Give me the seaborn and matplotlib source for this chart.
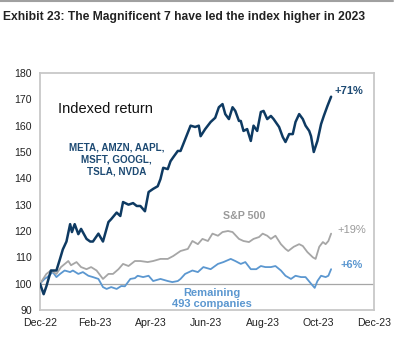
import matplotlib
matplotlib.use("Agg")
import matplotlib.pyplot as plt
from matplotlib.lines import Line2D
import seaborn as sns
import pandas as pd

sns.set_theme(style="white")
plt.rcParams['font.family'] = ['Liberation Sans', 'DejaVu Sans']

# ---------------- data ----------------
mag7_dates = ["2022-12-30", "2023-01-03", "2023-01-06", "2023-01-11", "2023-01-17", "2023-01-21",
              "2023-01-24", "2023-01-28", "2023-02-01", "2023-02-03", "2023-02-06", "2023-02-10",
              "2023-02-13", "2023-02-19", "2023-02-23", "2023-02-26", "2023-03-04", "2023-03-09",
              "2023-03-15", "2023-03-18", "2023-03-24", "2023-03-28", "2023-03-31", "2023-04-06",
              "2023-04-11", "2023-04-15", "2023-04-19", "2023-04-24", "2023-04-28", "2023-05-03",
              "2023-05-08", "2023-05-11", "2023-05-14", "2023-05-19", "2023-05-22", "2023-05-25",
              "2023-05-30", "2023-06-02", "2023-06-05", "2023-06-13", "2023-06-18", "2023-06-22",
              "2023-06-24", "2023-06-29", "2023-07-05", "2023-07-10", "2023-07-14", "2023-07-18",
              "2023-07-21", "2023-07-25", "2023-07-29", "2023-08-01", "2023-08-05", "2023-08-07",
              "2023-08-10", "2023-08-14", "2023-08-18", "2023-08-21", "2023-08-25", "2023-08-29",
              "2023-09-01", "2023-09-05", "2023-09-09", "2023-09-12", "2023-09-18", "2023-09-22",
              "2023-09-25", "2023-09-29", "2023-10-03", "2023-10-06", "2023-10-10", "2023-10-14",
              "2023-10-17", "2023-10-21", "2023-10-23", "2023-10-26", "2023-10-30", "2023-11-03",
              "2023-11-06", "2023-11-10", "2023-11-14"]
mag7_values = [100, 96, 99, 105, 105, 109.5,
               113, 116, 122.6, 119.6, 122.6, 118.8,
               120.8, 117, 116, 116, 119, 116,
               123.4, 124.5, 127, 125.7, 131, 130,
               130.6, 129.5, 129.5, 127.5, 134.8, 136,
               137, 139.7, 144, 143.5, 146.5, 148,
               150.4, 150.4, 153, 160, 159.5, 160,
               156, 158.7, 161.4, 163, 167, 168.2,
               164.4, 162.5, 167, 165.6, 161.8, 161.8,
               158, 158.7, 154.2, 160, 158, 165.2,
               165.6, 162.5, 163.7, 162.5, 159.5, 155.7,
               153.8, 156.8, 156.8, 161.4, 164.4, 162.5,
               160, 158, 156, 150, 154.2, 160.6,
               163.7, 167.5, 171]

spx_dates = ["2022-12-30", "2023-01-06", "2023-01-11", "2023-01-17", "2023-01-22", "2023-01-30",
             "2023-02-02", "2023-02-08", "2023-02-13", "2023-02-19", "2023-02-24", "2023-03-02",
             "2023-03-09", "2023-03-15", "2023-03-20", "2023-03-26", "2023-03-31", "2023-04-06",
             "2023-04-13", "2023-04-19", "2023-04-27", "2023-05-03", "2023-05-11", "2023-05-19",
             "2023-05-25", "2023-06-02", "2023-06-10", "2023-06-15", "2023-06-21", "2023-06-26",
             "2023-07-02", "2023-07-07", "2023-07-13", "2023-07-18", "2023-07-24", "2023-07-29",
             "2023-08-05", "2023-08-10", "2023-08-16", "2023-08-21", "2023-08-27", "2023-08-31",
             "2023-09-05", "2023-09-09", "2023-09-14", "2023-09-20", "2023-09-25", "2023-09-28",
             "2023-10-04", "2023-10-10", "2023-10-14", "2023-10-19", "2023-10-25", "2023-10-28",
             "2023-11-01", "2023-11-05", "2023-11-08", "2023-11-11", "2023-11-14"]
spx_values = [100, 103.7, 105, 103.7, 106.3, 108.6,
              107, 108.2, 106.3, 105.5, 106.3, 105,
              101.8, 103.7, 103.7, 105.5, 107.5, 106.7,
              108.6, 108.6, 108.2, 108.6, 109.4, 109.4,
              110.5, 112.4, 113.2, 116.2, 115, 117,
              116.2, 119, 118.2, 119.6, 120, 119.6,
              117, 116.2, 115.8, 117, 117.7, 119,
              118.2, 117, 118.2, 115, 113.2, 112.4,
              114, 115, 114.3, 112, 110, 109.4,
              114, 115.8, 115, 116.2, 119]

rest_dates = ["2022-12-30", "2023-01-04", "2023-01-07", "2023-01-13", "2023-01-17", "2023-01-21",
              "2023-01-26", "2023-02-01", "2023-02-04", "2023-02-10", "2023-02-15", "2023-02-21",
              "2023-02-26", "2023-03-04", "2023-03-09", "2023-03-13", "2023-03-18", "2023-03-24",
              "2023-03-29", "2023-04-02", "2023-04-08", "2023-04-13", "2023-04-16", "2023-04-22",
              "2023-04-28", "2023-05-03", "2023-05-11", "2023-05-19", "2023-05-24", "2023-05-30",
              "2023-06-02", "2023-06-07", "2023-06-15", "2023-06-21", "2023-06-27", "2023-07-05",
              "2023-07-13", "2023-07-19", "2023-07-27", "2023-08-01", "2023-08-07", "2023-08-12",
              "2023-08-18", "2023-08-24", "2023-08-29", "2023-09-03", "2023-09-09", "2023-09-14",
              "2023-09-20", "2023-09-25", "2023-10-01", "2023-10-06", "2023-10-12", "2023-10-17",
              "2023-10-23", "2023-10-27", "2023-10-30", "2023-11-03", "2023-11-08", "2023-11-11",
              "2023-11-14"]
rest_values = [100, 101.8, 102.5, 104.4, 102.5, 103.7,
               105, 104.4, 105, 103.7, 104.4, 103,
               102.5, 101.8, 98.7, 98, 98.7, 98,
               99.1, 99, 101.8, 102.1, 103, 102.5,
               103, 101, 101.8, 101, 100.6, 101,
               101.8, 103.7, 105, 104.4, 106.3, 105.5,
               107.5, 108.2, 109.4, 108.6, 107.5, 108.2,
               105.5, 105.5, 106.7, 106.3, 106.3, 106.7,
               105, 103, 101.8, 103, 102.5, 102.5,
               100, 98.4, 101, 103, 102.5, 103,
               105.5]

series_names = ["Mag7", "S&P 500", "Remaining"]
series_colors = ["#0E3A62", "#A6A6A6", "#5B97D0"]
tick_dates = ["2022-12-30", "2023-02-28", "2023-04-30", "2023-06-30",
              "2023-08-31", "2023-10-31", "2023-12-31"]
tick_labels = ["Dec-22", "Feb-23", "Apr-23", "Jun-23", "Aug-23", "Oct-23", "Dec-23"]
y_ticks = [90, 100, 110, 120, 130, 140, 150, 160, 170, 180]

df = pd.concat([
    pd.DataFrame({"date": pd.to_datetime(mag7_dates), "value": mag7_values, "series": series_names[0]}),
    pd.DataFrame({"date": pd.to_datetime(spx_dates), "value": spx_values, "series": series_names[1]}),
    pd.DataFrame({"date": pd.to_datetime(rest_dates), "value": rest_values, "series": series_names[2]}),
])

# ---------------- figure ----------------
fig = plt.figure(figsize=(4.14, 3.5), dpi=100)
ax = fig.add_axes([40/414, 1-310/350, (374-40)/414, (310-73)/350])

ax.axhline(100, color="#A6A6A6", lw=0.9, zorder=1)

palette = dict(zip(series_names, series_colors))
for name, lw in zip(series_names[::-1], [1.3, 1.3, 1.8]):
    sub = df[df.series == name]
    sns.lineplot(data=sub, x="date", y="value", color=palette[name], lw=lw, ax=ax,
                 legend=False, zorder=3 if name == "Mag7" else 2)

ax.set_xlim(pd.Timestamp("2022-12-30"), pd.Timestamp("2023-12-31"))
ax.set_ylim(90, 180)
ax.set_xticks(pd.to_datetime(tick_dates))
ax.set_xticklabels(tick_labels)
ax.set_yticks(y_ticks)
ax.set_xlabel("")
ax.set_ylabel("")
ax.tick_params(axis="both", length=0, labelsize=7.6, colors="#222222")
ax.tick_params(axis="x", pad=6)
ax.tick_params(axis="y", pad=6)
for s in ax.spines.values():
    s.set_color("#C8C8C8")
    s.set_linewidth(1.3)
ax.grid(False)

# annotations
yt = ax.get_yaxis_transform()
ax.text(0.055, 0.85, "Indexed return", transform=ax.transAxes, fontsize=10.5,
        color="#111111", ha="left", va="center")
ax.text(0.23, 0.635, "META, AMZN, AAPL,\nMSFT, GOOGL,\nTSLA, NVDA", transform=ax.transAxes,
        fontsize=7.1, fontweight="bold", color="#1D4A73", ha="center", va="center",
        linespacing=1.2)
ax.text((335-40)/334, 173.3, "+71%", transform=yt, fontsize=8,
        fontweight="bold", color="#1D4A73", ha="left", va="center")
ax.text((223-40)/334, 125.7, "S&P 500", transform=yt, fontsize=7.7,
        fontweight="bold", color="#9A9A9A", ha="left", va="center")
ax.text((337-40)/334, 120.4, "+19%", transform=yt, fontsize=8,
        color="#9A9A9A", ha="left", va="center")
ax.text((341-40)/334, 107.0, "+6%", transform=yt, fontsize=7.8,
        fontweight="bold", color="#5B97D0", ha="left", va="center")
ax.text((212-40)/334, 94.4, "Remaining\n493 companies", transform=yt,
        fontsize=8, fontweight="bold", color="#5B97D0", ha="center", va="center",
        linespacing=1.2)

# title and rule
fig.add_artist(Line2D([0, 393/414], [1-1/350, 1-1/350], color="#A0A0A0", lw=1.5))
fig.text(3/414, 1-17/350, "Exhibit 23: The Magnificent 7 have led the index higher in 2023",
         fontsize=8.75, fontweight="bold", color="#222222", ha="left", va="center")

fig.savefig("out.png", dpi=100, facecolor="white")
